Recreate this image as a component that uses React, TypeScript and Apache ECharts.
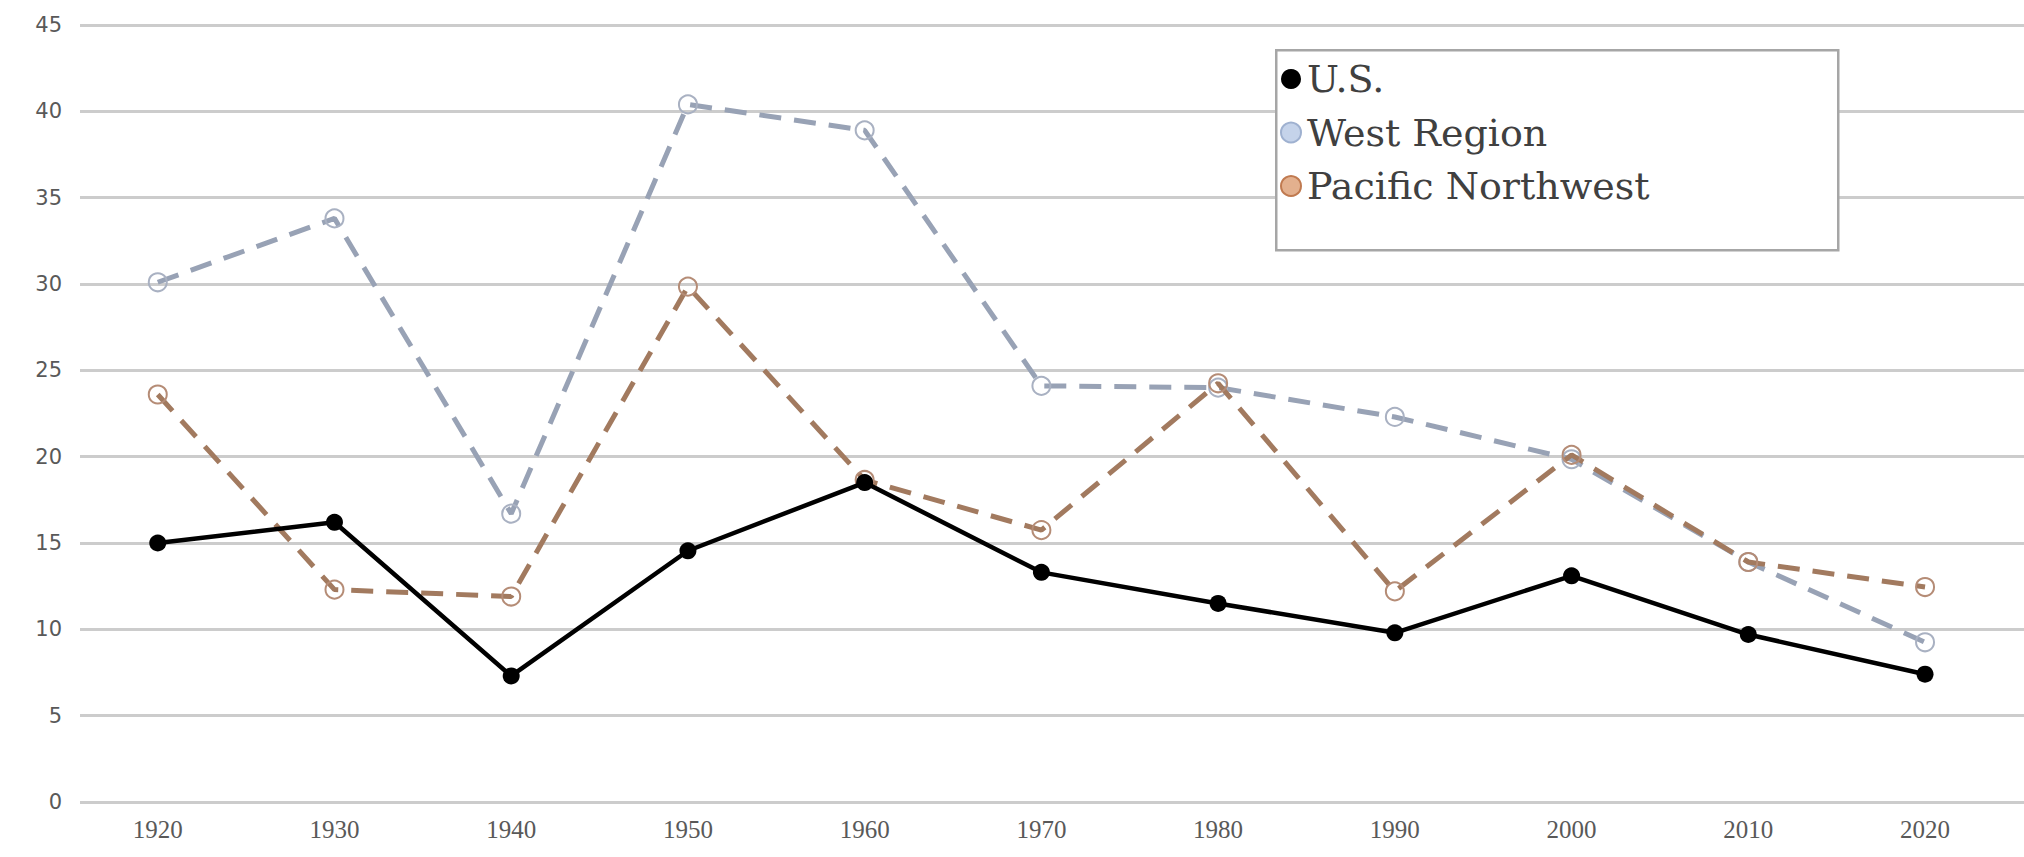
import React, { useEffect, useRef } from "react";
import * as echarts from "echarts";

const years = [1920, 1930, 1940, 1950, 1960, 1970, 1980, 1990, 2000, 2010, 2020];
const usValues = [15.0, 16.2, 7.3, 14.55, 18.5, 13.3, 11.5, 9.8, 13.1, 9.7, 7.4];
const westValues = [30.1, 33.8, 16.7, 40.4, 38.9, 24.1, 24.0, 22.3, 19.85, 13.9, 9.25];
const pnwValues = [23.6, 12.3, 11.9, 29.85, 18.65, 15.75, 24.25, 12.2, 20.1, 13.9, 12.45];
const yTicks = { min: 0, max: 45, interval: 5 };
const xRange = { min: 1915.6, max: 2025.6 };

const pairs = (vals: number[]) => years.map((y, i) => [y, vals[i]]);

export default function App() {
  const ref = useRef<HTMLDivElement>(null);
  useEffect(() => {
    if (!ref.current) return;
    const chart = echarts.init(ref.current, null, { renderer: "svg" });
    chart.setOption({
      animation: false,
      backgroundColor: "#ffffff",
      grid: { left: 80, right: 0, top: 25, bottom: 55, containLabel: false },
      xAxis: {
        type: "value",
        min: xRange.min,
        max: xRange.max,
        axisLine: { show: false },
        axisTick: { show: false },
        splitLine: { show: false },
        axisLabel: {
          customValues: years,
          formatter: (v: number) => String(Math.round(v)),
          color: "#595959",
          fontFamily: "Liberation Serif",
          fontSize: 25,
          margin: 15,
        },
      },
      yAxis: {
        type: "value",
        min: yTicks.min,
        max: yTicks.max,
        interval: yTicks.interval,
        axisLine: { show: false },
        axisTick: { show: false },
        axisLabel: {
          color: "#595959",
          fontFamily: "DejaVu Sans",
          fontSize: 21,
          margin: 18,
        },
        splitLine: { lineStyle: { color: "#cccccc", width: 3 } },
      },
      legend: {
        orient: "vertical",
        left: 1280,
        top: 59,
        padding: 0,
        itemWidth: 22,
        itemHeight: 20,
        itemGap: 13.5,
        z: 10,
        textStyle: {
          fontFamily: "DejaVu Serif",
          fontSize: 38,
          lineHeight: 40,
          color: "#404040",
        },
        data: [
          { name: "U.S.", icon: "circle", itemStyle: { color: "#000000", borderWidth: 0 } },
          { name: "West Region", icon: "circle", itemStyle: { color: "#c5d3ea", borderColor: "#9fb1d0", borderWidth: 2 } },
          { name: "Pacific Northwest", icon: "circle", itemStyle: { color: "#e3b08e", borderColor: "#c07a50", borderWidth: 2 } },
        ],
      },
      graphic: [
        {
          type: "rect",
          left: 1275,
          top: 49,
          z: 5,
          shape: { width: 562, height: 200 },
          style: { fill: "#ffffff", stroke: "#a6a6a6", lineWidth: 2.5 },
        },
      ],
      series: [
        {
          name: "West Region",
          type: "line",
          data: pairs(westValues),
          symbol: "circle",
          symbolSize: 18,
          lineStyle: { color: "#98a2b5", width: 5, type: [22, 13] },
          itemStyle: { color: "rgba(255,255,255,0)", borderColor: "#a9b1c2", borderWidth: 2 },
          z: 2,
        },
        {
          name: "Pacific Northwest",
          type: "line",
          data: pairs(pnwValues),
          symbol: "circle",
          symbolSize: 18,
          lineStyle: { color: "#a27a5f", width: 5, type: [22, 13] },
          itemStyle: { color: "rgba(255,255,255,0)", borderColor: "#b58c76", borderWidth: 2 },
          z: 3,
        },
        {
          name: "U.S.",
          type: "line",
          data: pairs(usValues),
          symbol: "circle",
          symbolSize: 17,
          lineStyle: { color: "#000000", width: 4.5 },
          itemStyle: { color: "#000000" },
          z: 4,
        },
      ],
    });
    return () => chart.dispose();
  }, []);
  return (
    <div
      ref={ref}
      style={{ position: "fixed", left: 0, top: 0, width: 2024, height: 857, background: "#fff" }}
    />
  );
}
